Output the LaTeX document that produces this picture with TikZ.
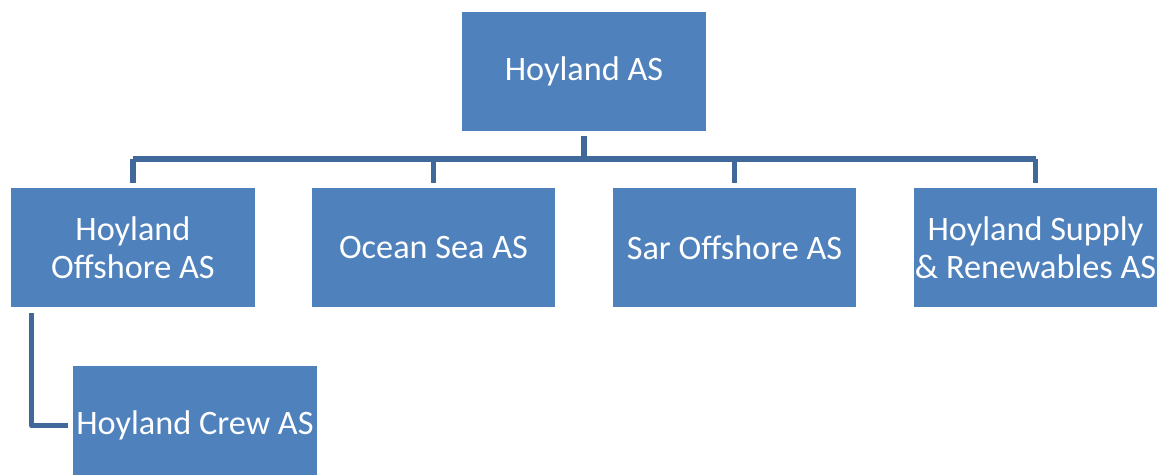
\documentclass[tikz,border=0pt]{standalone}
\usepackage{fontspec}
\setmainfont{Carlito}
\definecolor{boxblue}{HTML}{4F81BD}
\definecolor{lineblue}{HTML}{41689A}

\begin{document}
\begin{tikzpicture}[x=0.02cm,y=-0.02cm,
    company/.style = {fill = boxblue, text = white, inner sep = 0pt,
        minimum width = 4.88cm, minimum height = 2.38cm, align = center,
        font = \fontsize{19.5}{21.8}\selectfont},
    link/.style = {draw = lineblue, line width = 0.11cm, line join = round}]
    \useasboundingbox (0,0) rectangle (1157,475);
    \clip (0,0) rectangle (1157,475);
    \node (top) at (584,71.5) [company] {Hoyland AS};
    \node (b1) at (133,247.5) [company] {Hoyland\\Offshore AS};
    \node (b2) at (433.5,247.5) [company] {Ocean Sea AS};
    \node (b3) at (734.5,247.5) [company] {Sar Offshore AS};
    \node (b4) at (1035.5,247.5) [company] {Hoyland Supply\\\& Renewables AS};
    \node (crew) at (195,425.5) [company] {Hoyland Crew AS};
    \coordinate (bar) at (584,159);
    \draw [link] ([yshift=-0.1cm]top.south) -- (bar);
    \draw [link] (bar -| b1.north) -- (bar -| b4.north);
    \foreach \c in {b1,b2,b3,b4}
        \draw [link] (bar -| \c.north) -- ([yshift=0.1cm]\c.north);
    \draw [link] ([xshift=0.42cm,yshift=-0.12cm]b1.south west) |- ([xshift=-0.1cm]crew.west);
\end{tikzpicture}
\end{document}
